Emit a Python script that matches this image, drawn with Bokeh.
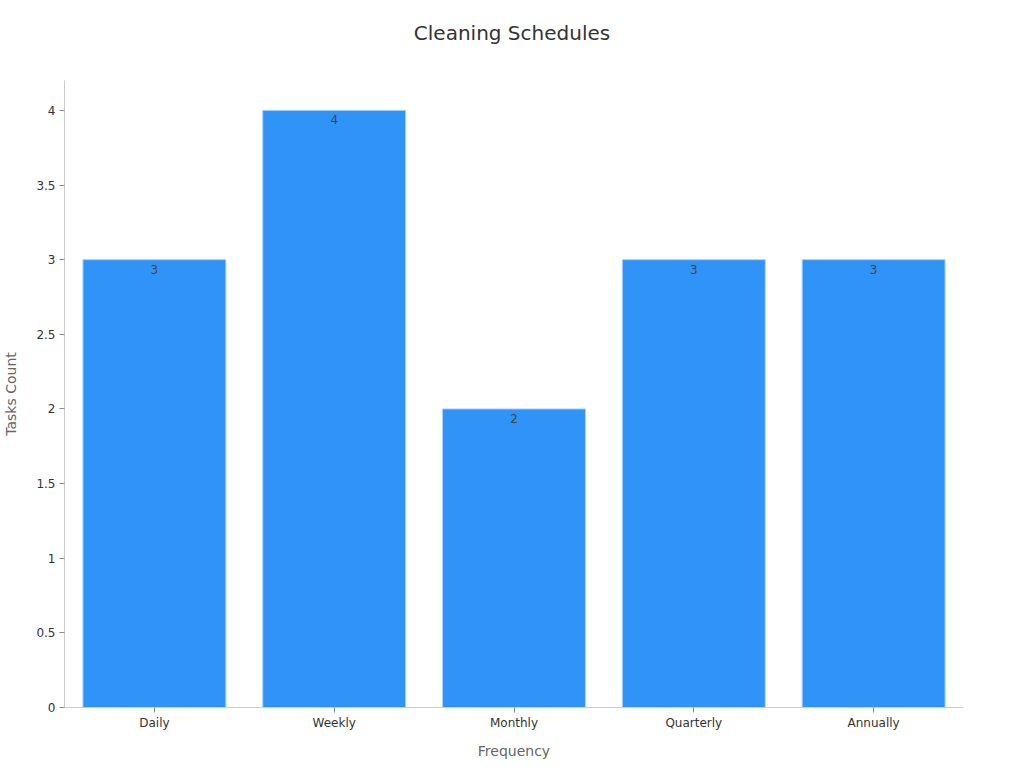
from bokeh.plotting import figure
from bokeh.models import ColumnDataSource, Range1d, FixedTicker, Div
from bokeh.layouts import column
from bokeh.embed import file_html
from bokeh.resources import INLINE
from bokeh.core.properties import value

categories = ["Daily", "Weekly", "Monthly", "Quarterly", "Annually"]
counts = [3, 4, 2, 3, 3]
y_ticks = [0, 0.5, 1, 1.5, 2, 2.5, 3, 3.5, 4]
title_text = "Cleaning Schedules"

FONT = "DejaVu Sans"
Y_MAX = 4.2

src = ColumnDataSource(dict(cat=categories, cnt=counts, lbl=[str(c) for c in counts]))

title_div = Div(text=title_text, width=1010, height=60, margin=(0, 0, 0, 0),
                styles={"font-family": FONT, "font-size": "20px", "color": "#333333",
                        "text-align": "center", "line-height": "66px",
                        "padding-left": "14px"})

p = figure(x_range=categories, y_range=Range1d(0, Y_MAX), width=1010, height=701,
           output_backend="svg", toolbar_location=None, margin=(0, 0, 0, 0),
           min_border_left=64, min_border_right=47, min_border_top=20, min_border_bottom=53)
p.x_range.range_padding = 0

p.vbar(x="cat", top="cnt", width=0.795, source=src, fill_color="#2F93F8",
       line_color="#A8D2FB", line_width=1)
p.text(x="cat", y="cnt", text="lbl", source=src, text_align="center", text_baseline="top",
       y_offset=5, text_font=value(FONT), text_font_size="12px", text_color="#444444")

p.grid.visible = False
p.outline_line_color = None

for ax in (p.xaxis[0], p.yaxis[0]):
    ax.axis_line_color = "#CCCCCC"
    ax.major_tick_line_color = "#888888"
    ax.minor_tick_line_color = None
    ax.major_tick_in = 0
    ax.major_tick_out = 5
    ax.major_label_text_font = FONT
    ax.major_label_text_font_size = "12px"
    ax.major_label_text_color = "#333333"
    ax.axis_label_text_font = FONT
    ax.axis_label_text_font_size = "14px"
    ax.axis_label_text_font_style = "normal"
    ax.axis_label_text_color = "#666666"

p.yaxis.ticker = FixedTicker(ticks=y_ticks)
p.yaxis.axis_label = "Tasks Count"
p.xaxis.axis_label = "Frequency"
p.yaxis.major_label_standoff = 4
p.xaxis.major_label_standoff = 3
p.xaxis.axis_label_standoff = 10
p.yaxis.axis_label_standoff = 14

layout = column(title_div, p, spacing=0)
open("out.html", "w").write(file_html(layout, INLINE))
